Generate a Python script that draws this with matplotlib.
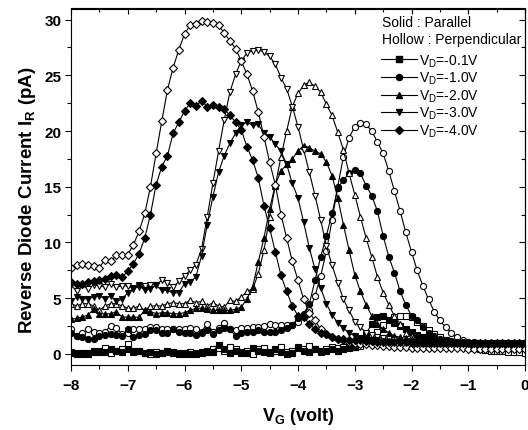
import numpy as np
import matplotlib.pyplot as plt
from matplotlib.lines import Line2D
from matplotlib.ticker import MultipleLocator

plt.rcParams['font.family'] = 'Liberation Sans'
plt.rcParams['mathtext.fontset'] = 'custom'
plt.rcParams['mathtext.rm'] = 'Liberation Sans'
plt.rcParams['mathtext.bf'] = 'Liberation Sans:bold'

# Gate voltage (V)
vg = [-8.0, -7.9, -7.8, -7.7, -7.6, -7.5, -7.4, -7.3, -7.2, -7.1,
      -7.0, -6.9, -6.8, -6.7, -6.6, -6.5, -6.4, -6.3, -6.2, -6.1,
      -6.0, -5.9, -5.8, -5.7, -5.6, -5.5, -5.4, -5.3, -5.2, -5.1,
      -5.0, -4.9, -4.8, -4.7, -4.6, -4.5, -4.4, -4.3, -4.2, -4.1,
      -4.0, -3.9, -3.8, -3.7, -3.6, -3.5, -3.4, -3.3, -3.2, -3.1,
      -3.0, -2.9, -2.8, -2.7, -2.6, -2.5, -2.4, -2.3, -2.2, -2.1,
      -2.0, -1.9, -1.8, -1.7, -1.6, -1.5, -1.4, -1.3, -1.2, -1.1,
      -1.0, -0.9, -0.8, -0.7, -0.6, -0.5, -0.4, -0.3, -0.2, -0.1,
      0.0]

# Reverse diode current (pA), solid = parallel, hollow = perpendicular
ir_01_par = [0.1, 0.0, 0.1, 0.0, 0.2, 0.3, 0.2, 0.4, 0.3, 0.2,
             0.4, 0.2, 0.3, 0.1, 0.2, 0.0, 0.1, 0.2, 0.1, 0.0,
             0.1, 0.0, 0.1, 0.2, 0.3, 0.2, 0.8, 0.4, 0.1, 0.3,
             0.2, 0.1, 0.5, 0.3, 0.2, 0.1, 0.4, 0.2, 0.0, 0.1,
             0.5, 0.3, 0.2, 0.4, 0.3, 0.3, 0.4, 0.3, 0.4, 0.5,
             0.6, 1.0, 1.8, 2.7, 3.3, 3.4, 3.0, 2.8, 2.5, 2.2,
             2.0, 1.7, 1.5, 1.3, 1.2, 1.0, 0.9, 0.85, 0.8, 0.8,
             0.75, 0.7, 0.7, 0.65, 0.6, 0.6, 0.55, 0.55, 0.5, 0.5,
             0.5]
ir_01_perp = [0.2, 0.1, 0.0, 0.1, 0.3, 0.2, 0.5, 0.1, 0.3, 0.4,
              0.9, 0.3, 0.3, 0.1, 0.0, 0.2, 0.1, 0.3, 0.2, 0.1,
              0.0, 0.2, 0.0, 0.1, 0.2, 0.4, 0.5, 0.3, 0.6, 0.4,
              0.1, 0.3, 0.0, 0.4, 0.5, 0.2, 0.3, 0.6, 0.2, 0.3,
              0.6, 0.4, 0.7, 0.4, 0.2, 0.4, 0.6, 0.5, 0.6, 0.6,
              0.6, 0.7, 1.0, 1.5, 2.0, 2.6, 3.0, 3.3, 3.4, 3.4,
              3.3, 2.9, 2.5, 2.1, 1.8, 1.5, 1.2, 1.0, 0.8, 0.7,
              0.6, 0.5, 0.4, 0.35, 0.3, 0.3, 0.25, 0.2, 0.2, 0.15,
              0.1]
ir_10_par = [1.9, 1.6, 1.5, 1.3, 1.35, 1.6, 1.65, 1.75, 1.65, 1.6,
             2.2, 1.5, 1.65, 1.8, 2.1, 2.1, 1.9, 1.9, 2.2, 2.0,
             1.9, 1.9, 1.7, 1.9, 2.1, 1.8, 2.1, 2.3, 2.2, 1.6,
             1.9, 1.95, 2.0, 2.1, 2.0, 2.0, 2.0, 2.1, 2.3, 2.6,
             3.2, 3.6, 4.5, 6.6, 8.7, 10.6, 12.6, 14.9, 15.6, 16.2,
             16.5, 16.2, 15.1, 14.2, 12.8, 10.6, 8.7, 7.3, 5.6, 4.4,
             3.4, 3.0, 2.4, 1.9, 1.6, 1.3, 1.2, 1.15, 1.1, 1.1,
             1.05, 1.05, 1.0, 1.0, 1.0, 1.0, 1.0, 1.0, 1.0, 1.0,
             1.0]
ir_10_perp = [2.2, 1.6, 1.9, 2.2, 2.0, 1.85, 2.0, 2.5, 2.3, 1.8,
              1.9, 2.2, 2.2, 2.2, 2.45, 2.4, 2.2, 2.2, 2.2, 2.2,
              2.2, 2.3, 2.2, 2.0, 2.7, 2.0, 2.3, 2.8, 2.2, 2.1,
              2.3, 2.3, 2.4, 2.45, 2.5, 2.7, 2.6, 2.55, 2.55, 2.55,
              2.9, 3.3, 3.9, 5.2, 7.0, 9.2, 12.0, 15.0, 17.7, 19.4,
              20.4, 20.75, 20.6, 20.0, 19.0, 18.0, 16.4, 14.6, 12.8, 10.9,
              9.15, 7.5, 6.1, 4.9, 3.8, 3.0, 2.4, 1.9, 1.5, 1.2,
              1.0, 0.9, 0.85, 0.8, 0.8, 0.75, 0.75, 0.7, 0.7, 0.7,
              0.7]
ir_20_par = [3.1, 3.2, 3.3, 3.5, 4.0, 3.6, 3.6, 3.6, 3.8, 3.3,
             3.3, 3.3, 3.3, 3.9, 3.8, 3.6, 3.7, 3.7, 3.6, 3.6,
             3.7, 3.9, 4.1, 4.1, 4.0, 3.9, 3.9, 3.9, 3.9, 4.0,
             4.2, 4.9, 6.0, 8.25, 10.4, 13.0, 15.2, 16.4, 17.0, 17.5,
             18.2, 18.7, 18.5, 18.2, 17.95, 17.2, 16.0, 14.0, 11.6, 9.3,
             7.1, 5.6, 4.4, 3.4, 2.7, 2.2, 1.9, 1.6, 1.5, 1.4,
             1.3, 1.2, 1.15, 1.1, 1.1, 1.1, 1.05, 1.05, 1.0, 1.0,
             1.0, 1.0, 1.0, 1.0, 1.0, 1.0, 1.0, 1.0, 1.0, 1.0,
             1.0]
ir_20_perp = [4.5, 4.3, 4.5, 4.5, 4.3, 3.9, 4.3, 4.5, 4.5, 4.3,
              4.1, 4.1, 4.3, 3.9, 4.3, 4.3, 4.3, 4.5, 4.6, 4.5,
              4.5, 4.8, 4.6, 4.7, 4.3, 4.6, 4.3, 4.2, 4.8, 4.7,
              5.1, 5.6, 5.8, 7.2, 9.3, 12.3, 15.1, 17.7, 20.0, 22.2,
              23.4, 24.1, 24.4, 24.0, 23.5, 22.4, 21.4, 19.9, 18.3, 16.2,
              14.3, 12.3, 10.4, 8.7, 6.9, 5.5, 4.4, 3.4, 2.7, 1.9,
              1.6, 1.3, 1.1, 1.0, 0.95, 0.9, 0.9, 0.85, 0.85, 0.85,
              0.8, 0.8, 0.8, 0.8, 0.8, 0.8, 0.8, 0.8, 0.8, 0.8,
              0.8]
ir_30_par = [4.7, 5.1, 4.95, 4.95, 5.1, 5.2, 4.95, 5.2, 4.7, 4.9,
             5.5, 5.85, 6.15, 5.7, 5.85, 6.15, 5.7, 5.7, 5.45, 5.5,
             6.3, 6.45, 6.9, 8.8, 11.6, 14.1, 16.3, 17.8, 18.9, 19.8,
             20.5, 20.8, 20.5, 20.6, 19.8, 19.5, 18.8, 18.2, 17.0, 15.3,
             14.0, 11.8, 9.5, 7.6, 5.9, 4.5, 3.5, 2.8, 2.3, 1.9,
             1.6, 1.4, 1.3, 1.2, 1.2, 1.1, 1.1, 1.1, 1.05, 1.05,
             1.0, 1.0, 1.0, 1.0, 1.0, 1.0, 1.0, 1.0, 1.0, 1.0,
             1.0, 1.0, 1.0, 1.0, 1.0, 1.0, 1.0, 1.0, 1.0, 1.0,
             1.0]
ir_30_perp = [6.2, 5.6, 6.15, 5.8, 6.2, 6.1, 6.0, 6.3, 6.0, 6.1,
              6.1, 5.9, 6.0, 6.1, 6.2, 6.2, 6.6, 6.4, 6.0, 6.5,
              7.0, 7.5, 8.0, 9.4, 12.3, 15.3, 18.2, 21.0, 23.5, 25.1,
              26.3, 27.0, 27.2, 27.3, 27.1, 26.7, 26.0, 24.8, 23.8, 22.2,
              20.4, 18.3, 16.3, 14.2, 12.0, 9.7, 7.95, 6.4, 4.9, 3.9,
              2.9, 2.4, 1.9, 1.7, 1.5, 1.4, 1.3, 1.2, 1.1, 1.0,
              1.0, 0.95, 0.9, 0.9, 0.85, 0.85, 0.8, 0.8, 0.8, 0.8,
              0.75, 0.75, 0.75, 0.75, 0.75, 0.75, 0.75, 0.75, 0.75, 0.75,
              0.75]
ir_40_par = [6.44, 6.3, 6.3, 6.45, 6.5, 6.65, 6.7, 7.0, 7.1, 6.9,
             7.4, 8.1, 9.0, 10.4, 12.5, 15.2, 16.8, 17.8, 19.8, 20.8,
             21.8, 22.5, 22.25, 22.7, 22.2, 22.3, 22.2, 22.0, 21.4, 20.8,
             20.1, 18.6, 17.4, 15.8, 13.3, 11.3, 9.15, 7.05, 5.6, 4.3,
             3.4, 3.3, 2.7, 2.2, 1.9, 1.75, 1.5, 1.35, 1.3, 1.25,
             1.2, 1.2, 1.15, 1.15, 1.1, 1.1, 1.1, 1.1, 1.05, 1.05,
             1.0, 1.0, 1.0, 1.0, 1.0, 1.0, 1.0, 1.0, 1.0, 1.0,
             1.0, 1.0, 1.0, 1.0, 1.0, 1.0, 1.0, 1.0, 1.0, 1.0,
             1.0]
ir_40_perp = [7.7, 7.95, 8.1, 8.0, 7.9, 7.75, 8.45, 8.3, 8.85, 8.9,
              8.9, 9.8, 11.0, 12.6, 15.0, 18.0, 20.9, 23.7, 25.7, 27.3,
              28.7, 29.5, 29.6, 29.9, 29.75, 29.7, 29.5, 28.8, 28.1, 27.4,
              26.3, 25.1, 23.6, 21.7, 19.5, 17.2, 15.2, 12.5, 10.4, 8.3,
              6.6, 4.9, 3.7, 3.0, 2.2, 1.8, 1.5, 1.3, 1.2, 1.1,
              1.0, 0.9, 0.9, 0.8, 0.8, 0.7, 0.7, 0.6, 0.6, 0.6,
              0.55, 0.5, 0.5, 0.5, 0.5, 0.5, 0.5, 0.5, 0.5, 0.5,
              0.45, 0.45, 0.45, 0.45, 0.45, 0.45, 0.45, 0.45, 0.45, 0.45,
              0.45]

vd_labels = ['-0.1', '-1.0', '-2.0', '-3.0', '-4.0']
markers = ['s', 'o', '^', 'v', 'D']
par_data = [ir_01_par, ir_10_par, ir_20_par, ir_30_par, ir_40_par]
perp_data = [ir_01_perp, ir_10_perp, ir_20_perp, ir_30_perp, ir_40_perp]

fig = plt.figure(figsize=(5.28, 4.31), dpi=100)
ax = fig.add_axes([71 / 528, 1 - 366 / 431, 454 / 528, 356.5 / 431])

handles = []
for par, perp, m, lab in zip(par_data, perp_data, markers, vd_labels):
    ms = 4.0 if m == 'D' else 4.4
    ax.plot(vg, perp, color='k', lw=0.8, marker=m, ms=ms,
            mfc='white', mec='k', mew=0.8)
    ax.plot(vg, par, color='k', lw=0.8, marker=m, ms=ms,
            mfc='k', mec='k', mew=0.8)
    handles.append(Line2D([], [], color='k', lw=0.8, marker=m, ms=ms,
                          mfc='k', mec='k', label=r'V$_\mathrm{D}$=' + lab + 'V'))

ax.set_xlim(-8, 0)
ax.set_ylim(-1, 31)
ax.set_xticks(range(-8, 1))
ax.set_yticks(range(0, 31, 5))
ax.xaxis.set_minor_locator(MultipleLocator(0.5))
ax.yaxis.set_minor_locator(MultipleLocator(2.5))
ax.tick_params(which='major', direction='out', length=4, width=0.8,
               labelsize=11, pad=5)
ax.tick_params(which='minor', direction='out', length=3, width=0.8)
ax.tick_params(axis='y', which='major', pad=3)
for lbl in ax.get_xticklabels() + ax.get_yticklabels():
    lbl.set_fontweight('bold')

top = ax.secondary_xaxis('top')
top.set_xticks(range(-8, 1))
top.xaxis.set_minor_locator(MultipleLocator(0.5))
top.tick_params(which='both', direction='in', labeltop=False, width=0.8)
top.tick_params(which='major', length=4)
top.tick_params(which='minor', length=3)
right = ax.secondary_yaxis('right')
right.set_yticks(range(0, 31, 5))
right.yaxis.set_minor_locator(MultipleLocator(2.5))
right.tick_params(which='both', direction='in', labelright=False, width=0.8)
right.tick_params(which='major', length=4)
right.tick_params(which='minor', length=3)

ax.set_xlabel(r'V$_\mathbf{G}$ (volt)', fontsize=13, fontweight='bold', labelpad=10)
ax.set_ylabel(r'Reverse Diode Current I$_\mathbf{R}$ (pA)', fontsize=13.5,
              fontweight='bold')
ax.yaxis.set_label_coords(-0.073, 0.466)

ax.text(0.685, 0.962, 'Solid : Parallel', transform=ax.transAxes,
        fontsize=10, va='center', ha='left')
ax.text(0.685, 0.914, 'Hollow : Perpendicular', transform=ax.transAxes,
        fontsize=10, va='center', ha='left')
ax.legend(handles=handles, loc='upper left', bbox_to_anchor=(0.683, 0.877),
          frameon=False, fontsize=10, handlelength=2.6, handletextpad=0.1,
          labelspacing=0.08, borderpad=0, borderaxespad=0)

fig.savefig('out.png', dpi=100)
